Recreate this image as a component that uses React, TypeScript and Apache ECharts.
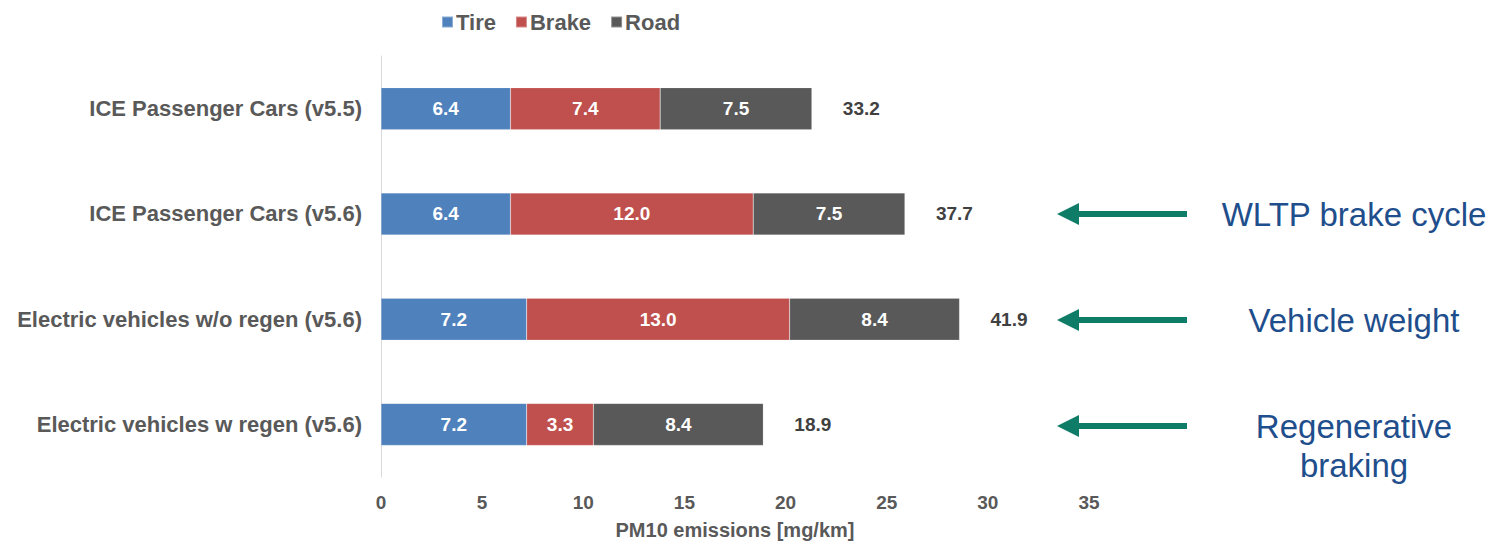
import React, { useEffect, useRef } from "react";
import * as echarts from "echarts";

const categories = [
  "ICE Passenger Cars (v5.5)",
  "ICE Passenger Cars (v5.6)",
  "Electric vehicles w/o regen (v5.6)",
  "Electric vehicles w regen (v5.6)",
];
const tire = [6.4, 6.4, 7.2, 7.2];
const brake = [7.4, 12.0, 13.0, 3.3];
const road = [7.5, 7.5, 8.4, 8.4];
const totals = [33.2, 37.7, 41.9, 18.9];
const xTicks = { min: 0, max: 35, interval: 5 };
const annotations = ["", "WLTP brake cycle", "Vehicle weight", "Regenerative\nbraking"];

const FONT = "'Liberation Sans', Arial, sans-serif";

export default function App() {
  const ref = useRef<HTMLDivElement>(null);
  useEffect(() => {
    if (!ref.current) return;
    const chart = echarts.init(ref.current, undefined, { renderer: "svg" });
    const gridTop = 56;
    const gridBottom = 65;
    const gridH = 545 - gridTop - gridBottom;
    const band = gridH / categories.length;

    const graphics: any[] = [];
    annotations.forEach((txt, i) => {
      if (!txt) return;
      const cy = gridTop + band * (i + 0.5) - 1;
      graphics.push({
        type: "line",
        shape: { x1: 1187, y1: cy, x2: 1072, y2: cy },
        style: { stroke: "#0e7c66", lineWidth: 6 },
      });
      graphics.push({
        type: "polygon",
        shape: { points: [[1057, cy], [1079, cy - 11], [1079, cy + 11]] },
        style: { fill: "#0e7c66" },
      });
      graphics.push({
        type: "text",
        x: 1354,
        y: cy + (txt.includes("\n") ? 20 : 0),
        style: {
          text: txt,
          font: `33px ${FONT}`,
          fill: "#1f4e8c",
          align: "center",
          verticalAlign: "middle",
          lineHeight: 39,
        },
      });
    });

    const barLabel = {
      show: true,
      position: "inside",
      color: "#ffffff",
      fontWeight: "bold",
      fontSize: 19,
      fontFamily: FONT,
      formatter: (p: any) => Number(p.value).toFixed(1),
    };
    const mk = (name: string, data: number[], color: string) => ({
      name,
      type: "bar",
      stack: "total",
      data,
      barWidth: 42,
      itemStyle: { color, borderColor: "rgba(255,255,255,0.35)", borderWidth: 0.5 },
      label: barLabel,
    });

    chart.setOption({
      animation: false,
      textStyle: { fontFamily: FONT },
      legend: {
        data: ["Tire", "Brake", "Road"],
        top: 6,
        left: 436,
        itemWidth: 11,
        itemHeight: 11,
        itemGap: 19,
        icon: "rect",
        textStyle: { fontSize: 22, fontWeight: "bold", color: "#595959", fontFamily: FONT, padding: [0, 0, 0, -2] },
      },
      grid: { left: 381, right: 410, top: gridTop, bottom: gridBottom, containLabel: false },
      xAxis: {
        type: "value",
        min: xTicks.min,
        max: xTicks.max,
        interval: xTicks.interval,
        splitLine: { show: false },
        axisLine: { show: false },
        axisTick: { show: false },
        axisLabel: { fontSize: 19, fontWeight: "bold", color: "#595959", margin: 16, fontFamily: FONT },
        name: "PM10 emissions [mg/km]",
        nameLocation: "middle",
        nameGap: 43,
        nameTextStyle: { fontSize: 20, fontWeight: "bold", color: "#595959", fontFamily: FONT },
      },
      yAxis: {
        type: "category",
        data: categories,
        inverse: true,
        axisLine: { show: true, lineStyle: { color: "#d9d9d9", width: 1 } },
        axisTick: { show: false },
        axisLabel: { fontSize: 22, fontWeight: "bold", color: "#595959", margin: 19, fontFamily: FONT },
      },
      series: [
        mk("Tire", tire, "#4f81bd"),
        mk("Brake", brake, "#c0504d"),
        mk("Road", road, "#595959"),
        {
          name: "Total",
          type: "bar",
          stack: "total",
          data: totals.map(() => 0),
          barWidth: 42,
          itemStyle: { color: "transparent" },
          label: {
            show: true,
            position: "right",
            distance: 31,
            color: "#404040",
            fontWeight: "bold",
            fontSize: 19,
            fontFamily: FONT,
            formatter: (p: any) => totals[p.dataIndex].toFixed(1),
          },
        },
      ],
      graphic: graphics,
    });
    return () => chart.dispose();
  }, []);
  return (
    <div
      ref={ref}
      style={{ position: "fixed", left: 0, top: 0, width: 1499, height: 545, background: "#ffffff" }}
    />
  );
}
